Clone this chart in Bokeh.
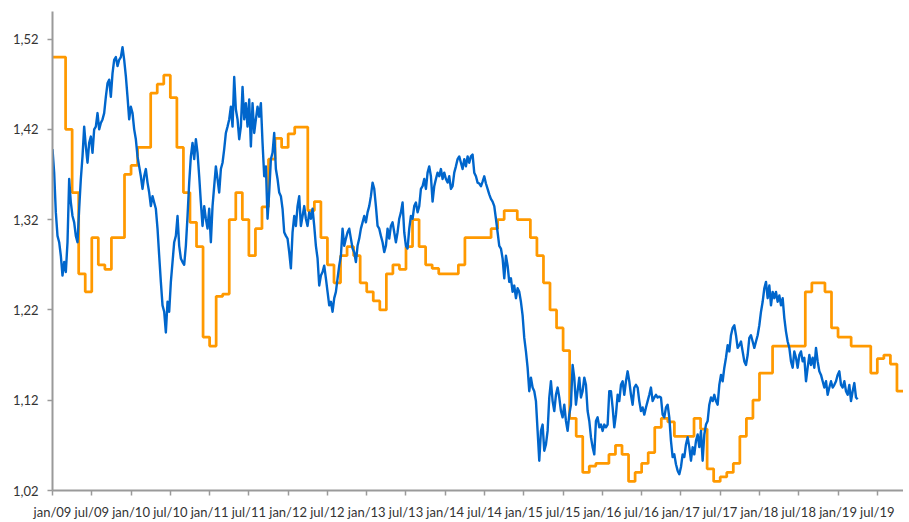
import numpy as np
from bokeh.plotting import figure
from bokeh.models import Range1d, FixedTicker
from bokeh.embed import file_html
from bokeh.resources import INLINE

# ---------------- data ----------------
# x axis: months since jan/2009
xtick_months = list(range(0, 127, 6))
xtick_labels = ["jan/09", "jul/09", "jan/10", "jul/10", "jan/11", "jul/11",
                "jan/12", "jul/12", "jan/13", "jul/13", "jan/14", "jul/14",
                "jan/15", "jul/15", "jan/16", "jul/16", "jan/17", "jul/17",
                "jan/18", "jul/18", "jan/19", "jul/19"]
ytick_values = [1.02, 1.12, 1.22, 1.32, 1.42, 1.52]
ytick_labels = ["1,02", "1,12", "1,22", "1,32", "1,42", "1,52"]

# monthly forecast (orange step line), one value per month from jan/09
forecast = [
    1.500, 1.500, 1.420, 1.350, 1.260, 1.240, 1.300, 1.270, 1.265, 1.300,
    1.300, 1.370, 1.380, 1.400, 1.400, 1.460, 1.470, 1.480, 1.455, 1.400,
    1.350, 1.317, 1.290, 1.190, 1.180, 1.235, 1.2375, 1.320, 1.350, 1.320,
    1.280, 1.310, 1.334, 1.387, 1.410, 1.400, 1.415, 1.4225, 1.4225, 1.330,
    1.340, 1.300, 1.270, 1.250, 1.280, 1.290, 1.280, 1.250, 1.240, 1.230,
    1.220, 1.260, 1.270, 1.265, 1.290, 1.320, 1.290, 1.270, 1.266, 1.260,
    1.260, 1.260, 1.270, 1.300, 1.300, 1.300, 1.300, 1.310, 1.320, 1.330,
    1.330, 1.320, 1.320, 1.300, 1.280, 1.250, 1.220, 1.200, 1.175, 1.100,
    1.080, 1.040, 1.047, 1.050, 1.050, 1.060, 1.070, 1.060, 1.030, 1.040,
    1.050, 1.062, 1.090, 1.100, 1.096, 1.080, 1.080, 1.080, 1.100, 1.088,
    1.044, 1.030, 1.035, 1.040, 1.050, 1.080, 1.100, 1.120, 1.150, 1.150,
    1.180, 1.180, 1.180, 1.180, 1.180, 1.240, 1.250, 1.250, 1.240, 1.200,
    1.190, 1.190, 1.180, 1.180, 1.180, 1.150, 1.166, 1.170, 1.160, 1.130,
]

# EUR/USD rate (blue), sampled about weekly from jan/09 to apr/19
eurusd_first_month = 0.0
eurusd_last_month = 123.0
eurusd = [
    1.398, 1.372, 1.328, 1.302, 1.295, 1.280, 1.258, 1.273, 1.262, 1.295,
    1.365, 1.339, 1.324, 1.317, 1.302, 1.295, 1.332, 1.365, 1.390, 1.423,
    1.401, 1.383, 1.405, 1.412, 1.394, 1.420, 1.423, 1.438, 1.420, 1.427,
    1.431, 1.438, 1.456, 1.471, 1.475, 1.456, 1.482, 1.497, 1.500, 1.490,
    1.497, 1.500, 1.511, 1.497, 1.479, 1.456, 1.431, 1.445, 1.438, 1.420,
    1.409, 1.390, 1.379, 1.368, 1.354, 1.368, 1.376, 1.361, 1.350, 1.335,
    1.346, 1.339, 1.332, 1.310, 1.280, 1.251, 1.225, 1.218, 1.195, 1.229,
    1.218, 1.251, 1.273, 1.295, 1.302, 1.324, 1.291, 1.277, 1.273, 1.270,
    1.291, 1.324, 1.361,
    1.390, 1.405, 1.387, 1.409, 1.394, 1.368, 1.339, 1.313, 1.335, 1.321,
    1.310, 1.332, 1.295, 1.335, 1.357, 1.379, 1.365, 1.350, 1.376, 1.383,
    1.398, 1.416, 1.423, 1.431, 1.445, 1.423, 1.478, 1.442, 1.431, 1.409,
    1.423, 1.467, 1.431, 1.449, 1.423, 1.453, 1.401, 1.449, 1.416, 1.431,
    1.445, 1.434, 1.449, 1.405, 1.368, 1.379, 1.321, 1.350, 1.387, 1.394,
    1.416, 1.376, 1.365, 1.350, 1.346, 1.332, 1.306, 1.302, 1.299, 1.284,
    1.266, 1.306, 1.324, 1.313, 1.335, 1.346, 1.313, 1.324, 1.335, 1.321,
    1.313, 1.328, 1.321, 1.332, 1.313, 1.291, 1.277, 1.247, 1.258, 1.262,
    1.269, 1.255, 1.240, 1.225,
    1.229, 1.218, 1.233, 1.240, 1.255, 1.269, 1.280, 1.310, 1.291, 1.299,
    1.306, 1.310, 1.299, 1.288, 1.284, 1.273, 1.291, 1.299, 1.310, 1.317,
    1.324, 1.317, 1.328, 1.335, 1.346, 1.361, 1.354, 1.335, 1.313, 1.310,
    1.302, 1.295, 1.284, 1.291, 1.310, 1.299, 1.313, 1.317, 1.306, 1.295,
    1.306, 1.321, 1.328, 1.339, 1.306, 1.291, 1.288, 1.310, 1.324, 1.321,
    1.335, 1.339, 1.328, 1.335, 1.354, 1.357, 1.365, 1.354, 1.372, 1.379,
    1.368, 1.340, 1.357, 1.365, 1.372, 1.368, 1.376, 1.365, 1.372, 1.365,
    1.361, 1.368, 1.354, 1.357, 1.372, 1.379, 1.387, 1.390, 1.383, 1.376,
    1.387, 1.379, 1.390, 1.383,
    1.390, 1.392, 1.372, 1.368, 1.361, 1.360, 1.357, 1.362, 1.368, 1.360,
    1.354, 1.348, 1.343, 1.340, 1.335, 1.321, 1.306, 1.291, 1.288, 1.277,
    1.255, 1.280, 1.269, 1.251, 1.255, 1.240, 1.247, 1.233, 1.244, 1.240,
    1.229, 1.214, 1.189, 1.174, 1.156, 1.130, 1.145, 1.134, 1.130, 1.119,
    1.086, 1.053, 1.086, 1.093, 1.064, 1.071, 1.086, 1.123, 1.141, 1.119,
    1.108, 1.126, 1.134, 1.123, 1.108, 1.101, 1.115, 1.097, 1.086, 1.104,
    1.115, 1.159, 1.145, 1.115, 1.130, 1.145, 1.123, 1.130, 1.145, 1.137,
    1.108, 1.097, 1.079, 1.068, 1.060, 1.097, 1.101, 1.090, 1.093, 1.086,
    1.093, 1.090, 1.093, 1.130,
    1.130, 1.112, 1.090, 1.104, 1.126, 1.119, 1.137, 1.141, 1.126, 1.141,
    1.152, 1.141, 1.126, 1.115, 1.134, 1.137, 1.134, 1.119, 1.108, 1.112,
    1.104, 1.112, 1.119, 1.126, 1.134, 1.119, 1.123, 1.126, 1.123, 1.124,
    1.123, 1.104, 1.101, 1.112, 1.115, 1.101, 1.075, 1.057, 1.060, 1.049,
    1.042, 1.038, 1.046, 1.060, 1.057, 1.071, 1.079, 1.068, 1.053, 1.068,
    1.060, 1.075, 1.082, 1.068, 1.086, 1.053, 1.082, 1.093, 1.097, 1.115,
    1.123, 1.119, 1.126, 1.119, 1.115, 1.137, 1.148, 1.141, 1.156, 1.167,
    1.181, 1.174, 1.192, 1.200, 1.203, 1.192, 1.178, 1.181, 1.185, 1.174,
    1.163, 1.159, 1.170, 1.189,
    1.192, 1.185, 1.178, 1.185, 1.192, 1.203, 1.218, 1.229, 1.244, 1.251,
    1.233, 1.247, 1.225, 1.240, 1.233, 1.240, 1.229, 1.236, 1.225, 1.233,
    1.211, 1.196, 1.185, 1.178, 1.163, 1.156, 1.174, 1.167, 1.156, 1.170,
    1.174, 1.163, 1.167, 1.141, 1.156, 1.170, 1.159, 1.167, 1.156, 1.178,
    1.163, 1.152, 1.148, 1.141, 1.134, 1.141, 1.126, 1.134, 1.141, 1.134,
    1.137, 1.141, 1.148, 1.152, 1.137, 1.134, 1.141, 1.130, 1.126, 1.137,
    1.119, 1.130, 1.139, 1.123, 1.121,
]

# ---------------- figure ----------------
AXIS_GREY = "#9a9a9a"
TEXT = "#333333"
FONT = "Lato"

p = figure(width=903, height=522, output_backend="svg", toolbar_location=None,
           x_range=Range1d(0, 130.0), y_range=Range1d(1.02, 1.5505),
           min_border_left=52, min_border_right=0, min_border_top=11,
           min_border_bottom=29)
p.outline_line_color = None
p.xgrid.visible = False
p.ygrid.visible = False
p.background_fill_color = "white"
p.border_fill_color = "white"

fx = list(range(len(forecast) + 1))
fy = forecast + [forecast[-1]]
p.step(fx, fy, mode="after", line_color="#FF9900", line_width=2.75)

ex = np.linspace(eurusd_first_month, eurusd_last_month, len(eurusd))
p.line(ex, eurusd, line_color="#0066CC", line_width=2.4, line_join="round")

xa = p.xaxis[0]
xa.ticker = FixedTicker(ticks=xtick_months)
xa.major_label_overrides = {m: lab for m, lab in zip(xtick_months, xtick_labels)}
ya = p.yaxis[0]
ya.ticker = FixedTicker(ticks=ytick_values)
ya.major_label_overrides = {v: lab for v, lab in zip(ytick_values, ytick_labels)}

for ax in (xa, ya):
    ax.axis_line_color = AXIS_GREY
    ax.axis_line_width = 2
    ax.major_tick_line_color = AXIS_GREY
    ax.major_tick_line_width = 1.5
    ax.major_tick_out = 5
    ax.major_tick_in = 0
    ax.minor_tick_line_color = None
    ax.major_label_text_font = FONT
    ax.major_label_text_font_size = "13px"
    ax.major_label_text_color = TEXT
xa.major_label_standoff = 8
ya.major_label_standoff = 9

open("out.html", "w").write(file_html(p, INLINE))
